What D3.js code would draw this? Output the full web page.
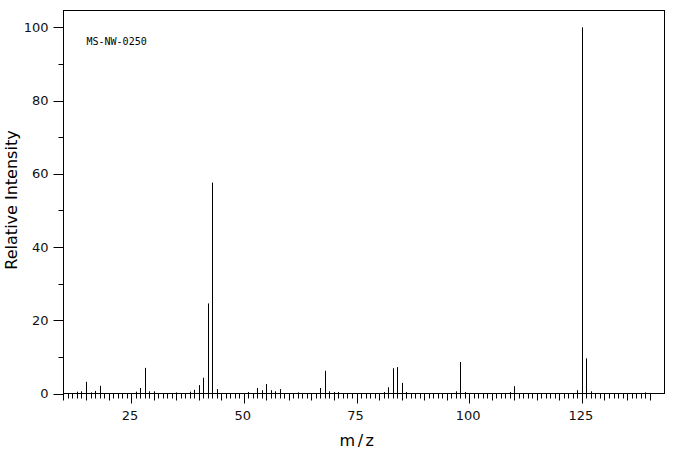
<!DOCTYPE html>
<html><head><meta charset="utf-8">
<script src="https://cdn.jsdelivr.net/npm/d3@7"></script>
<style>body{margin:0;background:#fff}svg{display:block}</style>
</head><body>
<script>
const mz = [13,14,15,16,17,18,26,27,28,29,30,35,38,39,40,41,42,43,44,51,53,54,55,56,57,58,62,67,68,69,70,71,81,82,83,84,85,86,97,98,99,109,110,124,125,126,127,139];
const intensity = [0.5,0.6,3.2,0.3,0.7,2.1,0.5,1.5,7.0,0.6,0.6,0.3,0.5,1.0,2.3,4.3,24.6,57.6,1.2,0.4,1.5,0.9,2.6,0.9,0.6,1.2,0.3,1.5,6.2,0.6,0.4,0.4,0.4,1.7,6.9,7.2,2.9,0.4,0.6,8.6,0.4,0.4,2.0,0.9,100,9.6,0.6,0.3];
const xTickLabels = [25,50,75,100,125];
const yTickLabels = [0,20,40,60,80,100];
const label = "MS-NW-0250";

const W=676,H=455;
const L=63.5,R=664.5,T=10.5,B=393.5;
const svg=d3.select("body").append("svg").attr("width",W).attr("height",H);
const x=d3.scaleLinear().domain([9.9,143.2]).range([L,R]);
const y=d3.scaleLinear().domain([0,104.6]).range([B,T]);
const px=v=>Math.floor(x(v))+0.5;

// frame
svg.append("rect").attr("x",L).attr("y",T).attr("width",R-L).attr("height",B-T)
  .attr("fill","none").attr("stroke","#000").attr("stroke-width",1);

// x ticks
const xt=d3.range(10,141,1);
svg.append("g").selectAll("line").data(xt).join("line")
  .attr("x1",px).attr("x2",px)
  .attr("y1",B).attr("y2",d=>B+(d%25===0?10:d%5===0?7:5))
  .attr("stroke","#000").attr("stroke-width",1);
svg.append("g").selectAll("text").data(xTickLabels).join("text")
  .attr("x",d=>x(d)-1.5).attr("y",419.5).attr("text-anchor","middle")
  .attr("font-family","DejaVu Sans").attr("font-size",13).attr("fill","#111").text(d=>d);

// y ticks
const yt=d3.range(0,101,10);
svg.append("g").selectAll("line").data(yt).join("line")
  .attr("y1",d=>Math.round(y(d))+0.5).attr("y2",d=>Math.round(y(d))+0.5)
  .attr("x1",L).attr("x2",d=>L-(d%20===0?10:5))
  .attr("stroke","#000").attr("stroke-width",1);
svg.append("g").selectAll("text").data(yTickLabels).join("text")
  .attr("x",48.5).attr("y",d=>y(d)).attr("dy","0.36em").attr("text-anchor","end")
  .attr("font-family","DejaVu Sans").attr("font-size",13).attr("fill","#111").text(d=>d);

// bars
svg.append("g").selectAll("line").data(mz.map((m,i)=>[m,intensity[i]])).join("line")
  .attr("x1",d=>px(d[0])).attr("x2",d=>px(d[0]))
  .attr("y1",B).attr("y2",d=>y(d[1]))
  .attr("stroke","#000").attr("stroke-width",1);

// titles
svg.append("text").attr("transform","translate(17,200) rotate(-90)")
  .attr("text-anchor","middle").attr("font-family","DejaVu Sans").attr("font-size",16)
  .text("Relative Intensity");
svg.append("text").attr("x",358).attr("y",446).attr("text-anchor","middle")
  .attr("font-family","DejaVu Sans").attr("font-size",16).attr("letter-spacing",2.5)
  .text("m/z");
svg.append("text").attr("x",86.5).attr("y",45).attr("font-family","DejaVu Sans Mono")
  .attr("font-size",10).text(label);
</script>
</body></html>
